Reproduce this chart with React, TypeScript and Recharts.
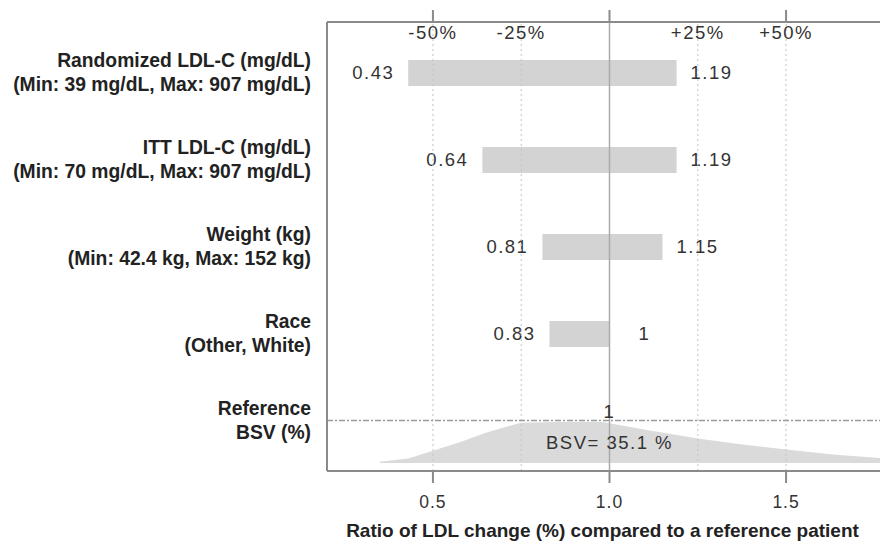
import {
  Area,
  AreaChart,
  Bar,
  ComposedChart,
  ReferenceDot,
  ReferenceLine,
  XAxis,
  YAxis,
} from "recharts";

// covariate rows, top to bottom
const rows = ["Randomized LDL-C", "ITT LDL-C", "Weight", "Race", "Reference"];
const rowTitles = ["Randomized LDL-C (mg/dL)", "ITT LDL-C (mg/dL)", "Weight (kg)", "Race", "Reference"];
const rowSubtitles = [
  "(Min: 39 mg/dL, Max: 907 mg/dL)",
  "(Min: 70 mg/dL, Max: 907 mg/dL)",
  "(Min: 42.4 kg, Max: 152 kg)",
  "(Other, White)",
  "BSV (%)",
];
const lows = [0.43, 0.64, 0.81, 0.83, null];
const highs = [1.19, 1.19, 1.15, 1, null];

// x axis ticks and the percent guides
const axisTicks = [0.5, 1.0, 1.5];
const pctTicks = [0.5, 0.75, 1.25, 1.5];
const pctLabels = ["-50%", "-25%", "+25%", "+50%"];

// between subject variability distribution (relative density)
const densX = [0.35, 0.43, 0.5, 0.58, 0.65, 0.71, 0.75, 0.86, 0.98, 1.11, 1.25, 1.37, 1.5, 1.64, 1.8];
const densY = [0.03, 0.11, 0.3, 0.52, 0.74, 0.89, 0.98, 1.0, 1.0, 0.8, 0.6, 0.46, 0.33, 0.2, 0.1];
const bsvLabel = "BSV= 35.1 %";

const data = rows.map((row, i) => ({ row, low: lows[i], high: highs[i] }));
const densData = densX.map((x, i) => ({ x, d: densY[i] }));

const FONT = "'Liberation Sans', Arial, Helvetica, sans-serif";
const DOMAIN: [number, number] = [0.2, 1.8];
const W = 884;
const H = 533;
const frame = "#8a8a8a";
const valueStyle = { fontSize: 18.5, fill: "#333", fontFamily: FONT, letterSpacing: 1.5 };

function RowTick(props: any) {
  const { x, y, payload } = props;
  const i = rows.indexOf(payload.value);
  return (
    <g>
      <text x={x} y={y - 12} dy="0.35em" textAnchor="end" fontSize={19.3} fontWeight="bold" fill="#222" fontFamily={FONT}>
        {rowTitles[i]}
      </text>
      <text x={x} y={y + 12} dy="0.35em" textAnchor="end" fontSize={19.3} fontWeight="bold" fill="#222" fontFamily={FONT}>
        {rowSubtitles[i]}
      </text>
    </g>
  );
}

function RangeBar(props: any) {
  const { x, y, width, height, payload } = props;
  if (payload.low == null) return <g />;
  const cy = y + height / 2;
  return (
    <g>
      <rect x={x} y={y} width={width} height={height} fill="#d3d3d3" />
      <text x={x - 35} y={cy} dy="0.35em" textAnchor="middle" style={valueStyle}>
        {String(payload.low)}
      </text>
      <text x={x + width + 35} y={cy} dy="0.35em" textAnchor="middle" style={valueStyle}>
        {String(payload.high)}
      </text>
    </g>
  );
}

export default function App() {
  return (
    <div style={{ position: "relative", width: 880, height: H, overflow: "hidden" }}>
      <div style={{ position: "absolute", left: 0, top: 0 }}>
        <AreaChart width={W} height={H} data={densData} margin={{ top: 414, right: 0, bottom: 78, left: 319 }}>
          <XAxis type="number" dataKey="x" domain={DOMAIN} allowDataOverflow hide />
          <YAxis type="number" domain={[0, 1]} width={0} hide />
          <Area type="linear" dataKey="d" stroke="none" fill="#dadada" fillOpacity={1} isAnimationActive={false} />
        </AreaChart>
      </div>
      <div style={{ position: "absolute", left: 0, top: 0 }}>
        <ComposedChart layout="vertical" width={W} height={H} data={data} margin={{ top: 0, right: 0, bottom: 0, left: 9 }}>
          <XAxis
            xAxisId="top"
            orientation="top"
            type="number"
            domain={DOMAIN}
            allowDataOverflow
            ticks={axisTicks}
            tick={() => <g />}
            tickSize={12}
            height={14}
            stroke={frame}
            strokeWidth={2}
          />
          <XAxis
            xAxisId="bottom"
            orientation="bottom"
            type="number"
            domain={DOMAIN}
            allowDataOverflow
            ticks={axisTicks}
            tickFormatter={(v: number) => v.toFixed(1)}
            tickSize={12}
            tickMargin={13}
            height={70}
            stroke={frame}
            strokeWidth={2}
            tick={{ fontSize: 17.5, fill: "#333", fontFamily: FONT, letterSpacing: 1 }}
            label={{
              value: "Ratio of LDL change (%) compared to a reference patient",
              position: "insideBottom",
              offset: 4,
              dx: -7,
              style: { fontSize: 19, fontWeight: "bold", fill: "#222", fontFamily: FONT },
            }}
          />
          <YAxis
            type="category"
            dataKey="row"
            width={310}
            padding={{ top: 7, bottom: 7 }}
            tickLine={false}
            tickMargin={10}
            stroke={frame}
            strokeWidth={2}
            tick={<RowTick />}
          />
          {pctTicks.map((v, i) => (
            <ReferenceLine
              key={v}
              xAxisId="bottom"
              x={v}
              stroke="#c4c4c4"
              strokeDasharray="2 3"
              label={{ value: pctLabels[i], position: "insideTop", offset: 4, style: valueStyle }}
            />
          ))}
          <ReferenceLine xAxisId="bottom" x={1} stroke="#aaaaaa" strokeWidth={1.5} />
          <ReferenceLine xAxisId="bottom" y="Reference" stroke="#999" strokeWidth={1.5} strokeDasharray="6 2 2 2" />
          <Bar
            xAxisId="bottom"
            dataKey={(d: any) => (d.low == null ? null : [d.low, d.high])}
            barSize={26}
            shape={<RangeBar />}
            isAnimationActive={false}
          />
          <ReferenceDot
            xAxisId="bottom"
            x={1}
            y="Reference"
            r={0}
            stroke="none"
            label={{ value: "1", position: "top", offset: 3, style: valueStyle }}
          />
          <ReferenceDot
            xAxisId="bottom"
            x={1}
            y="Reference"
            r={0}
            stroke="none"
            label={{ value: bsvLabel, position: "bottom", offset: 15, style: valueStyle }}
          />
        </ComposedChart>
      </div>
    </div>
  );
}
